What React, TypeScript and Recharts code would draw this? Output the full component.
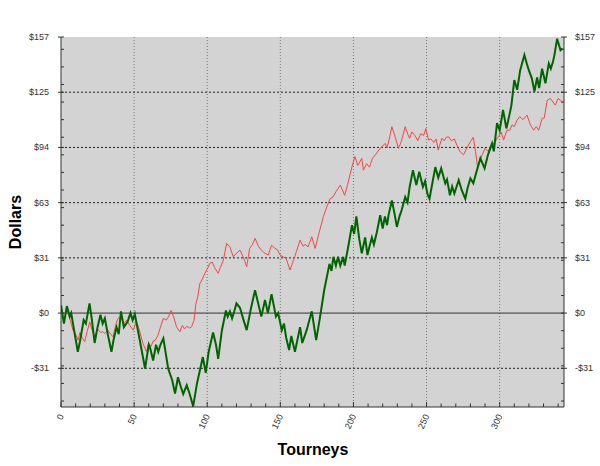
import React from 'react';
import { LineChart, Line, XAxis, YAxis, CartesianGrid, ReferenceLine } from 'recharts';

// green (thick) series: tourney number and running winnings
const greenTourneys = [
  0, 2, 4, 6, 7, 9, 11.5, 13, 15.5, 17,
  19.5, 21, 23, 25, 27, 28.5, 30, 32, 34.5, 36,
  38, 39.5, 41, 43, 45.5, 47.5, 49, 50.5, 51.5, 54,
  57.5, 60, 61, 63, 65, 66.5, 68, 70, 73.3, 76,
  78, 80, 82, 83.6, 86, 88, 90.4, 93, 97, 99,
  101, 104, 106, 107.5, 110, 112.8, 114, 115.5, 117, 118.5,
  120, 122.4, 124.5, 127, 130, 132.7, 135, 137, 139.5, 141.5,
  144, 147, 148.5, 151, 152.5, 154, 156, 157.5, 160, 163.5,
  165, 168, 171.5, 174.5, 177, 180, 183.6, 185, 186.3, 188,
  189.5, 191, 193, 194, 196.5, 199, 200.5, 202, 204, 205.7,
  208, 209.6, 211, 212.6, 214, 216, 218.3, 220, 221.5, 223,
  224, 226.3, 228, 229.7, 231.5, 233, 235.4, 237, 238.5, 240.7,
  243, 245, 247.5, 249, 250.5, 252, 254, 256, 258, 260,
  262.8, 264, 266, 267.5, 269, 272, 274, 276.5, 278, 280,
  282, 284, 286.8, 289.7, 292, 294.8, 296, 298.2, 300, 302.3,
  304.6, 306.5, 308, 310, 312, 314, 316.9, 318.5, 320, 322,
  323.8, 325.6, 327, 329, 331.3, 333.6, 335, 336.5, 337.5, 339.3,
  341.6, 343,
];
const greenDollars = [
  4.5, -6, 4, -2, 0, -10, -22, -16, -4, -6,
  5.5, -3, -17, -8, -1, -6, -3, -12, -22, -15,
  -8, -12, 1, -8, -5, 0, -4, -0.5, -5, -16,
  -31.5, -18, -20, -27, -18, -22, -18, -14.4, -31.5, -38,
  -45.7, -36.5, -42, -46, -41, -46, -53, -40, -25, -34,
  -22, -11, -18, -26, -10, 1.5, -2, 1, -3, 1,
  5.5, 3, -3, -9.7, 3, 13, 5, -2, 7.4, 0,
  10.8, -2, 0, -9.7, -6, -14, -21, -13, -22, -8,
  -17, -9.7, 1, -15.4, -3, 13, 28, 24, 32, 27,
  32, 27, 32, 27, 38, 50, 45, 55, 42, 34,
  43, 33, 38, 43, 39, 46, 55.7, 48, 55, 50,
  55.7, 64, 57, 49, 55, 58.6, 66, 63, 72, 81.3,
  72.8, 80.4, 71.8, 75, 68, 65, 74, 83, 77, 82.3,
  73.8, 76, 67, 72, 68, 75.6, 70, 65, 71, 76.6,
  73.8, 80, 88, 82.3, 90, 96.5, 92, 108, 104, 115.5,
  105, 112, 118, 132.5, 127, 138, 146.8, 142, 138, 133.5,
  126, 134, 128, 139, 130.7, 142, 139, 143, 147, 156,
  149.5, 150.5,
];

// red (thin) series
const redTourneys = [
  0, 2, 4, 6, 8.2, 10, 11.6, 13, 14.5, 16.2,
  18, 19.7, 21, 23, 25, 27, 28.6, 30, 32, 34,
  35.6, 37.7, 39, 41, 43, 45, 47, 49.3, 51.6, 53,
  56, 58.5, 60, 61.5, 63, 64.5, 66.4, 68, 70, 72,
  73.5, 75.3, 77, 79, 81.3, 83, 84.5, 86, 88, 89.3,
  91, 92.2, 93.5, 95, 96.5, 98.4, 100, 101.8, 103.5, 105,
  107.5, 109, 111, 113.3, 115.5, 117.8, 120, 122.4, 124, 125.5,
  127, 129, 131, 132.7, 135, 137, 139.5, 141.8, 144, 146,
  148, 149.8, 152, 154, 156.6, 159, 161, 163.5, 165.5, 167,
  169, 171.5, 173.8, 176, 179.4, 181.8, 184, 186, 188, 191,
  194, 196, 199, 201, 203, 205.7, 206.8, 209, 211, 213,
  215, 218.3, 220, 221.7, 223, 224.5, 226.3, 228.6, 230.8, 232.5,
  235.4, 237, 238.4, 240, 242, 244, 246, 248, 249.5, 251.4,
  253, 255, 256.5, 258, 260.5, 262, 263.5, 265, 267, 269,
  271, 273, 275.3, 277, 280, 282, 283.5, 285, 287, 290,
  292, 294.5, 296.5, 298, 299.3, 301, 302.7, 305, 307, 308.5,
  310, 312, 313.7, 316, 318.7, 321, 323.3, 325, 326.7, 329,
  330.5, 332.5, 334.7, 336.5, 338, 340, 341.5, 343,
];
const redDollars = [
  4, -5, 2, -3, -9.7, -12, -15.4, -11, -14, -16.3,
  -10, -5, -9, -13.5, -9, -11, -10.6, -11.6, -9.7, -12,
  -13.5, -5.9, -3, -2, -6, -4, -7, -9.7, -5, -8,
  -17.2, -22, -17, -19, -16, -15.4, -12.5, -8, -3, -4,
  -2, 1.5, -2, -7.8, -10.6, -7, -9, -7.5, -8.5, -7.8,
  -4, 5, 9.3, 16.9, 19, 22.6, 25, 28.3, 29, 26,
  22.6, 26, 30, 39.6, 37.7, 32, 34, 35.8, 33, 30,
  26.3, 36.8, 39, 42.5, 38, 35.8, 34, 33, 38.7, 37,
  36, 33, 32, 31, 24.5, 30, 35, 41.5, 38, 39,
  37.7, 43.4, 36.8, 44, 54.8, 60.5, 65, 66, 69, 72.8,
  67, 73, 83.2, 89, 84, 88, 81.3, 85, 83, 88,
  90, 93.7, 95, 96.5, 94, 99, 106, 100, 93.7, 97,
  106, 102, 99.4, 103, 101, 98, 102, 101, 105, 98.4,
  99, 97, 99, 92.7, 99.4, 98, 100, 100.3, 98, 99,
  95, 91.7, 90, 93, 97.4, 100, 92, 82.3, 88, 93.7,
  92, 95.5, 97, 99, 100.3, 103, 98.4, 104, 104, 107,
  106, 109.8, 111.7, 110, 112.6, 107, 104, 106, 104, 110.7,
  111, 121, 122, 120, 118.3, 122, 121, 120,
];

const xMajorTicks = [0, 50, 100, 150, 200, 250, 300];
const xMinorTicks = [0, 10, 20, 30, 40, 50, 60, 70, 80, 90, 100, 110, 120, 130, 140, 150, 160, 170,
  180, 190, 200, 210, 220, 230, 240, 250, 260, 270, 280, 290, 300, 310, 320, 330, 340];
const yMajorTicks = [-31.4, 0, 31.4, 62.8, 94.2, 125.6, 157];
const yMajorLabels = ['-$31', '$0', '$31', '$63', '$94', '$125', '$157'];
const yMinorTicks = [-50, -40, -30, -20, -10, 10, 20, 30, 40, 50, 60, 70, 80, 90, 100, 110, 120, 130, 140, 150];

const X_DOMAIN: [number, number] = [0, 344];
const Y_DOMAIN: [number, number] = [-53.4, 157];

const FONT = '"Liberation Sans", Arial, sans-serif';
const AXIS = '#333';

const greenData = greenTourneys.map((t, i) => ({ t, v: greenDollars[i] }));
const redData = redTourneys.map((t, i) => ({ t, v: redDollars[i] }));
const yAllTicks = [...yMajorTicks, ...yMinorTicks].sort((a, b) => a - b);

const majorIndex = (v: number) => yMajorTicks.findIndex((m) => Math.abs(m - v) < 0.01);

const LeftTick = (props: any) => {
  const { x, y, payload } = props;
  const idx = majorIndex(payload.value);
  if (idx < 0) return <line x1={x} x2={x + 3} y1={y} y2={y} stroke={AXIS} />;
  return (
    <g>
      <line x1={x - 3} x2={x + 3} y1={y} y2={y} stroke={AXIS} />
      <text x={x - 12} y={y + 3} textAnchor="end" fontSize={9} fill="#333" fontFamily={FONT}>
        {yMajorLabels[idx]}
      </text>
    </g>
  );
};

const RightTick = (props: any) => {
  const { x, y, payload } = props;
  const idx = majorIndex(payload.value);
  if (idx < 0) return <line x1={x - 3} x2={x} y1={y} y2={y} stroke={AXIS} />;
  return (
    <g>
      <line x1={x - 3} x2={x + 3} y1={y} y2={y} stroke={AXIS} />
      <text x={x + 11} y={y + 3} textAnchor="start" fontSize={9} fill="#333" fontFamily={FONT}>
        {yMajorLabels[idx]}
      </text>
    </g>
  );
};

const BottomTick = (props: any) => {
  const { x, y, payload } = props;
  const major = xMajorTicks.includes(payload.value);
  if (!major) return <line x1={x} x2={x} y1={y} y2={y - 3.5} stroke={AXIS} />;
  return (
    <g>
      <line x1={x} x2={x} y1={y} y2={y - 5} stroke={AXIS} />
      <text
        x={x + 3}
        y={y + 9}
        textAnchor="end"
        fontSize={9}
        fill="#333"
        fontFamily={FONT}
        transform={`rotate(-65 ${x + 3} ${y + 9})`}
      >
        {payload.value}
      </text>
    </g>
  );
};

const TopTick = (props: any) => {
  const { x, y } = props;
  return <line x1={x} x2={x} y1={y} y2={y + 3} stroke={AXIS} />;
};

export default function App() {
  return (
    <div style={{ position: 'absolute', left: 0, top: 0, width: 600, height: 466, background: '#fff' }}>
      <LineChart width={600} height={466} margin={{ top: 37, right: 0, bottom: 0, left: 0 }}>
        <CartesianGrid xAxisId="bottom" yAxisId="left" horizontal={false} vertical={false} fill="#d3d3d3" />
        <XAxis
          xAxisId="bottom"
          dataKey="t"
          type="number"
          domain={X_DOMAIN}
          allowDataOverflow
          ticks={xMinorTicks}
          interval={0}
          height={59}
          tickSize={0}
          tickMargin={0}
          tick={BottomTick}
          axisLine={{ stroke: AXIS }}
          label={() => (
            <text x={313} y={455} textAnchor="middle" fontSize={16} fontWeight="bold" fontFamily={FONT} fill="#000">
              Tourneys
            </text>
          )}
        />
        <XAxis
          xAxisId="top"
          orientation="top"
          dataKey="t"
          type="number"
          domain={X_DOMAIN}
          allowDataOverflow
          ticks={xMinorTicks}
          interval={0}
          height={0}
          tickSize={0}
          tickMargin={0}
          tick={TopTick}
          axisLine={{ stroke: '#000', strokeDasharray: '2 2' }}
          label={() => (
            <text x={312} y={22} textAnchor="middle" fontSize={16} fontWeight="bold" fontFamily={FONT} fill="#000">
              Winnings
            </text>
          )}
        />
        <YAxis
          yAxisId="left"
          type="number"
          domain={Y_DOMAIN}
          allowDataOverflow
          ticks={yAllTicks}
          interval={0}
          width={61}
          tickSize={0}
          tickMargin={0}
          tick={LeftTick}
          axisLine={{ stroke: AXIS }}
          label={() => (
            <text
              x={21}
              y={222}
              textAnchor="middle"
              fontSize={16}
              fontWeight="bold"
              fontFamily={FONT}
              fill="#000"
              transform="rotate(-90 21 222)"
            >
              Dollars
            </text>
          )}
        />
        <YAxis
          yAxisId="right"
          orientation="right"
          type="number"
          domain={Y_DOMAIN}
          allowDataOverflow
          ticks={yAllTicks}
          interval={0}
          width={36}
          tickSize={0}
          tickMargin={0}
          tick={RightTick}
          axisLine={{ stroke: AXIS }}
        />
        {xMajorTicks.slice(1).map((t) => (
          <ReferenceLine key={`vx${t}`} xAxisId="bottom" yAxisId="left" x={t} stroke="#777" strokeDasharray="1 2" />
        ))}
        {yMajorTicks.filter((v) => v !== 0 && v !== Y_DOMAIN[1]).map((v) => (
          <ReferenceLine key={`hy${v}`} xAxisId="bottom" yAxisId="left" y={v} stroke="#222" strokeDasharray="2 2" />
        ))}
        <ReferenceLine xAxisId="bottom" yAxisId="left" y={0} stroke="#333" />
        <Line
          xAxisId="bottom"
          yAxisId="left"
          data={redData}
          dataKey="v"
          type="linear"
          stroke="#f04848"
          strokeWidth={1}
          dot={false}
          isAnimationActive={false}
        />
        <Line
          xAxisId="bottom"
          yAxisId="left"
          data={greenData}
          dataKey="v"
          type="linear"
          stroke="#006400"
          strokeWidth={2}
          dot={false}
          isAnimationActive={false}
        />
      </LineChart>
    </div>
  );
}
